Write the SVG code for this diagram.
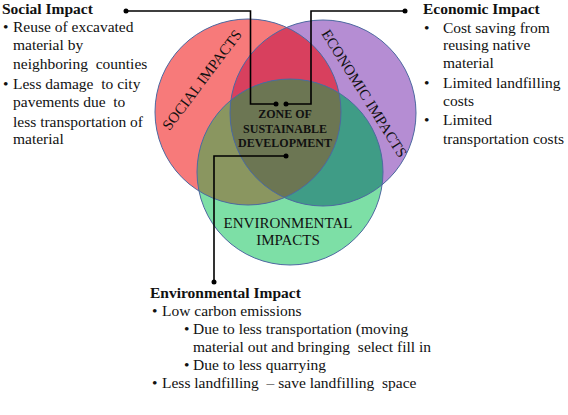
<svg xmlns="http://www.w3.org/2000/svg" width="568" height="415" viewBox="0 0 568 415">
<style>
text{white-space:pre}
.t{font-family:"Liberation Serif","Times New Roman",serif;font-size:15.5px;fill:#111}
.h{font-weight:bold}
.c{font-family:"Liberation Serif","Times New Roman",serif;font-size:15px;fill:#111}
.z{font-family:"Liberation Serif","Times New Roman",serif;font-size:12px;font-weight:bold;fill:#111}
.ol{fill:none;stroke:#4d68a0;stroke-width:1}
.ln{fill:none;stroke:#000;stroke-width:1.6}
.dot{fill:#000}
</style>
<defs>
<clipPath id="cR"><circle cx="248" cy="112" r="93"/></clipPath>
<clipPath id="cP"><circle cx="323" cy="113" r="93"/></clipPath>
</defs>
<rect width="568" height="415" fill="#fff"/>
<g id="venn">
<circle cx="248" cy="112" r="93" fill="#F77A7A"/>
<circle cx="323" cy="113" r="93" fill="#B58DD3"/>
<circle cx="290" cy="172" r="93" fill="#7DDFA6"/>
<g clip-path="url(#cR)">
<circle cx="323" cy="113" r="93" fill="#D8405E"/>
<circle cx="290" cy="172" r="93" fill="#8A9660"/>
</g>
<g clip-path="url(#cP)">
<circle cx="290" cy="172" r="93" fill="#3F9C86"/>
</g>
<g clip-path="url(#cR)"><g clip-path="url(#cP)">
<circle cx="290" cy="172" r="93" fill="#6C7653"/>
</g></g>
<circle class="ol" cx="248" cy="112" r="93"/>
<circle class="ol" cx="323" cy="113" r="93"/>
<circle class="ol" cx="290" cy="172" r="93"/>
</g>
<g id="social-circle-label">
<text class="c" text-anchor="middle" transform="translate(206,83) rotate(-53)">SOCIAL IMPACTS</text>
</g>
<g id="economic-circle-label">
<text class="c" text-anchor="middle" transform="translate(360,96) rotate(58)">ECONOMIC IMPACTS</text>
</g>
<g id="environmental-circle-label">
<text class="c" text-anchor="middle" x="288" y="228">ENVIRONMENTAL</text>
<text class="c" text-anchor="middle" x="288" y="245">IMPACTS</text>
</g>
<g id="zone">
<text class="z" text-anchor="middle" x="285" y="118">ZONE OF</text>
<text class="z" text-anchor="middle" x="285" y="133">SUSTAINABLE</text>
<text class="z" text-anchor="middle" x="285" y="147">DEVELOPMENT</text>
</g>
<g id="connectors">
<polyline class="ln" points="126,11 250.5,11 250.5,104 276,104"/>
<circle class="dot" cx="126" cy="11" r="2.5"/>
<circle class="dot" cx="276" cy="104" r="2.5"/>
<polyline class="ln" points="405,11 311,11 311,104 286,104"/>
<circle class="dot" cx="405" cy="11" r="2.5"/>
<circle class="dot" cx="286" cy="104" r="2.5"/>
<polyline class="ln" points="286,156 214,156 214,282"/>
<circle class="dot" cx="286" cy="156" r="2.5"/>
<circle class="dot" cx="214" cy="282" r="2.5"/>
</g>
<g id="social-impact">
<text class="t h" x="2" y="14">Social Impact</text>
<text class="t" x="3" y="32">•</text>
<text class="t" x="13" y="32">Reuse of excavated</text>
<text class="t" x="13" y="50">material by</text>
<text class="t" x="13" y="69">neighboring  counties</text>
<text class="t" x="3" y="89">•</text>
<text class="t" x="13" y="89">Less damage  to city</text>
<text class="t" x="13" y="107">pavements due  to</text>
<text class="t" x="13" y="127">less transportation of</text>
<text class="t" x="13" y="144">material</text>
</g>
<g id="economic-impact">
<text class="t h" x="423" y="14">Economic Impact</text>
<text class="t" x="424" y="33">•</text>
<text class="t" x="443" y="33">Cost saving from</text>
<text class="t" x="443" y="50">reusing native</text>
<text class="t" x="443" y="68">material</text>
<text class="t" x="424" y="88">•</text>
<text class="t" x="443" y="88">Limited landfilling</text>
<text class="t" x="443" y="106">costs</text>
<text class="t" x="424" y="125">•</text>
<text class="t" x="443" y="125">Limited</text>
<text class="t" x="443" y="144">transportation costs</text>
</g>
<g id="environmental-impact">
<text class="t h" x="150" y="298">Environmental Impact</text>
<text class="t" x="152" y="316">•</text>
<text class="t" x="162" y="316">Low carbon emissions</text>
<text class="t" x="184" y="334">•</text>
<text class="t" x="193" y="334">Due to less transportation (moving</text>
<text class="t" x="193" y="352">material out and bringing  select fill in</text>
<text class="t" x="184" y="370">•</text>
<text class="t" x="193" y="370">Due to less quarrying</text>
<text class="t" x="152" y="388">•</text>
<text class="t" x="162" y="388">Less landfilling  – save landfilling  space</text>
</g>
</svg>
